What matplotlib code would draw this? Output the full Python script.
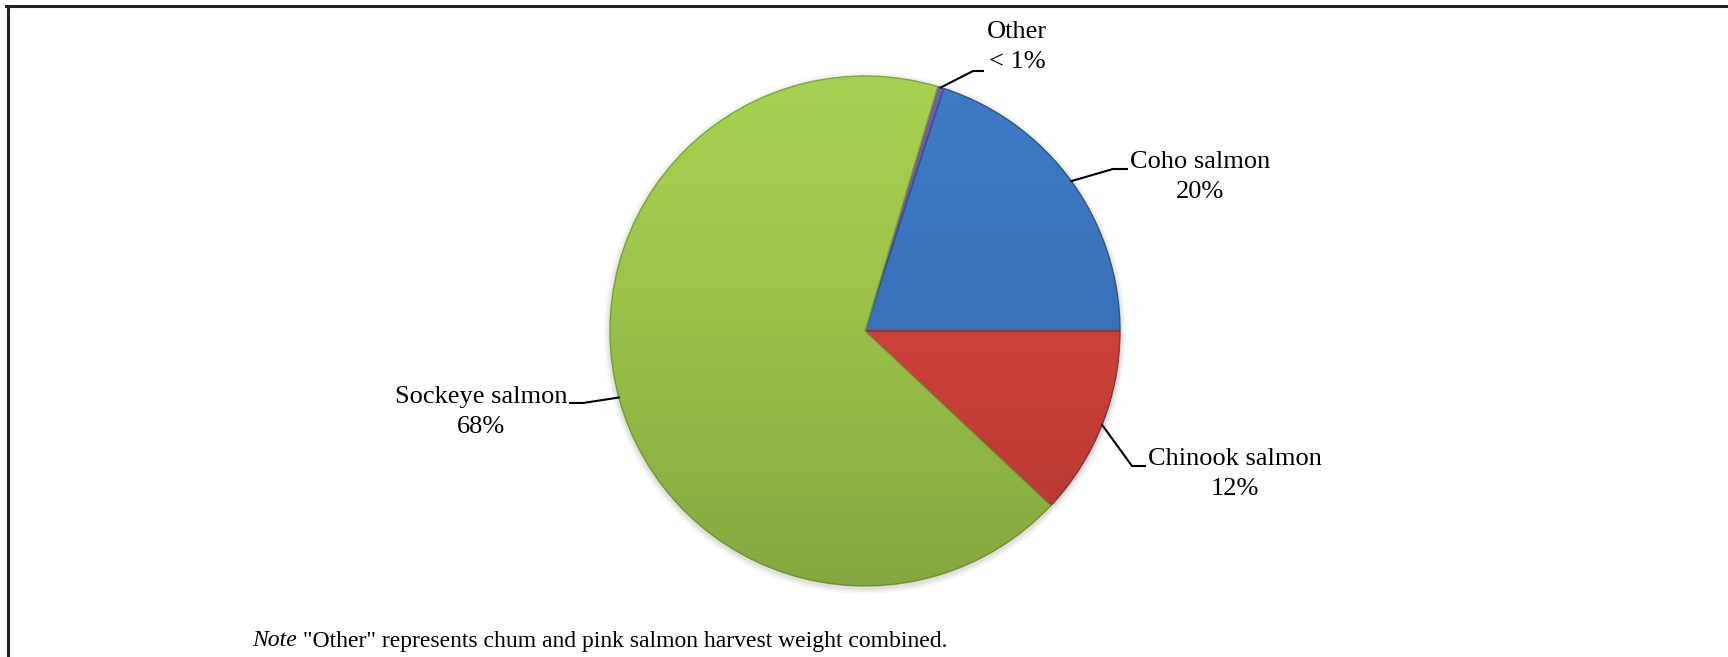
import numpy as np
import matplotlib
matplotlib.use("Agg")
import matplotlib.pyplot as plt
from matplotlib.lines import Line2D

# Harvest weight share by species (percent)
species = ["Other", "Coho salmon", "Chinook salmon", "Sockeye salmon"]
shares = [0.4, 20.0, 12.0, 67.6]
share_labels = ["< 1%", "20%", "12%", "68%"]
colors = ["#7a5aa6", "#3e7ac6", "#de463e", "#a6d04f"]
edge_colors = ["#4e3a70", "#2c5a96", "#a83030", "#80a63c"]

W, H = 1728, 657
plt.rcParams["font.family"] = ["Liberation Serif", "DejaVu Serif"]

fig = plt.figure(figsize=(W / 100, H / 100), dpi=100)
ax = fig.add_axes([0, 0, 1, 1])

center = (865, H - 331)
radius = 255
# clockwise, so that Coho ends at 3 o'clock
start = (shares[0] + shares[1]) * 3.6

# faint shadow around the pie
for k, a in [(6, 0.03), (4, 0.04), (2, 0.05)]:
    ax.add_patch(plt.Circle((center[0], center[1] - 2), radius + k,
                            facecolor="black", edgecolor="none", alpha=a, zorder=0))

wedges, _ = ax.pie(shares, colors=colors, startangle=start, counterclock=False,
                   radius=radius, center=center, frame=True,
                   wedgeprops=dict(linewidth=1.0))
for w, ec in zip(wedges, edge_colors):
    w.set_edgecolor(ec)

# soft top-to-bottom shading over the pie
grad = np.linspace(0, 1, 256).reshape(-1, 1)
shade = np.zeros((256, 1, 4))
shade[..., 3] = 0.2 * grad ** 1.3
img = ax.imshow(shade, extent=(center[0] - radius, center[0] + radius,
                               center[1] - radius, center[1] + radius),
                origin="upper", zorder=3, aspect="auto")
circ = plt.Circle(center, radius, transform=ax.transData, facecolor="none", edgecolor="none")
ax.add_patch(circ)
img.set_clip_path(circ)

ax.set_xlim(0, W)
ax.set_ylim(0, H)
ax.set_aspect("equal")
ax.axis("off")

# label text positions and leader elbows (pixel coordinates from top-left)
text_pos = [(1017, 47), (1200, 177), (1235, 474), (481, 412)]
elbows = [((973, 71), (983, 71)),
          ((1113, 169), (1127, 169)),
          ((1132, 466), (1145, 466)),
          ((583, 403), (570, 403))]

for w, name, lab, (tx, ty), (e1, e2) in zip(wedges, species, share_labels, text_pos, elbows):
    mid = np.deg2rad((w.theta1 + w.theta2) / 2)
    ax_x = center[0] + radius * np.cos(mid)
    ax_y = center[1] + radius * np.sin(mid)
    ax.add_line(Line2D([ax_x, e1[0], e2[0]], [ax_y, H - e1[1], H - e2[1]],
                       color="black", lw=1.5, zorder=5))
    ax.text(tx, H - ty, f"{name}\n{lab}", ha="center", va="center",
            fontsize=19, linespacing=1.42, zorder=6)

# note under the chart
note = ax.text(252, H - 641, "Note", fontsize=17, style="italic", va="center")
ax.annotate(' "Other" represents chum and pink salmon harvest weight combined.',
            xy=(1, 0.5), xycoords=note, va="center", ha="left", fontsize=17)

# frame lines on top and left
ax.add_line(Line2D([6, W], [H - 5.5, H - 5.5], color="#222222", lw=2.2, zorder=7))
ax.add_line(Line2D([7.5, 7.5], [0, H - 5.5], color="#222222", lw=2.2, zorder=7))

fig.savefig("out.png", dpi=100, facecolor="white")
